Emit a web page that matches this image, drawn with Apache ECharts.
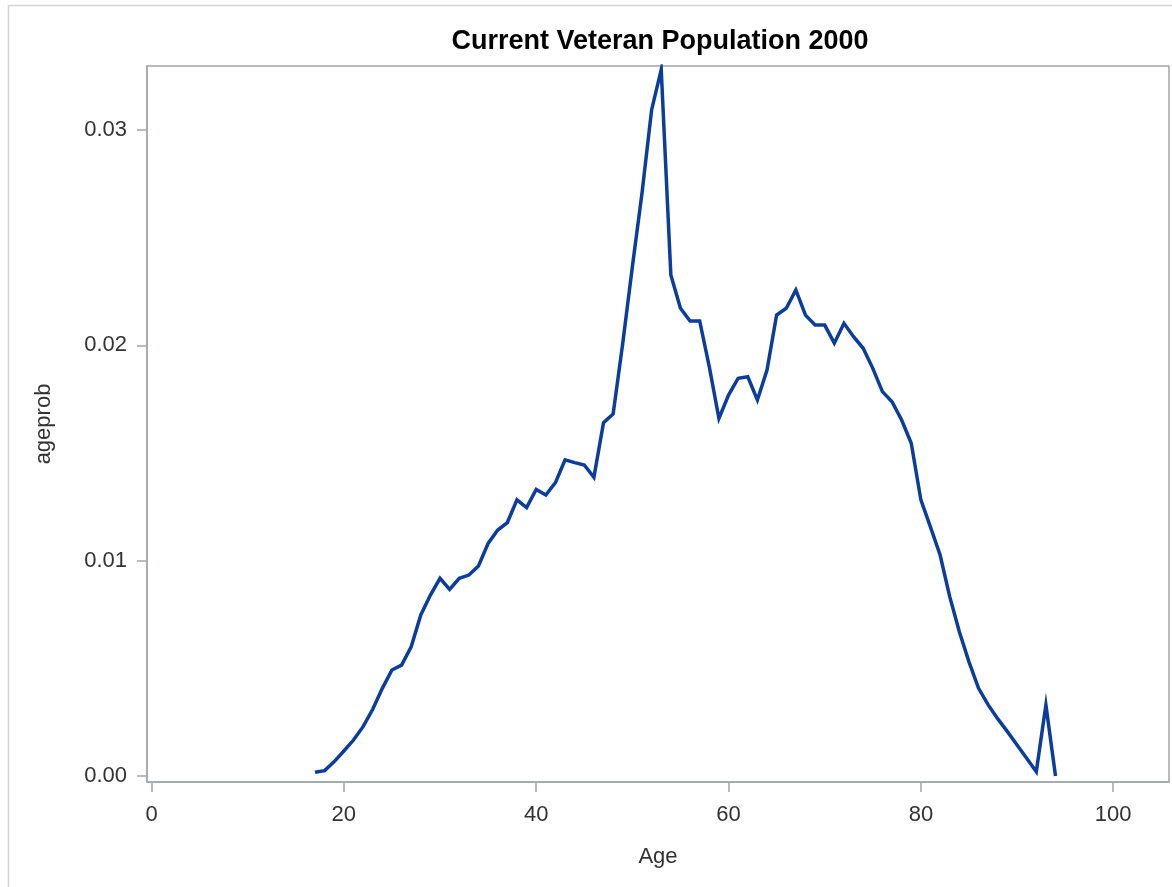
<!DOCTYPE html>
<html>
<head>
<meta charset="utf-8">
<script src="https://cdn.jsdelivr.net/npm/echarts@6/dist/echarts.min.js"></script>
<style>
html,body{margin:0;padding:0;background:#fff;}
#chart{width:1172px;height:887px;}
</style>
</head>
<body>
<div id="chart"></div>
<script>
const ages = [17,18,19,20,21,22,23,24,25,26,27,28,29,30,31,32,33,34,35,36,37,38,39,40,41,42,43,44,45,46,47,48,49,50,51,52,53,54,55,56,57,58,59,60,61,62,63,64,65,66,67,68,69,70,71,72,73,74,75,76,77,78,79,80,81,82,83,84,85,86,87,88,89,90,91,92,93,94];
const ageprob = [0.00017,0.00025,0.00067,0.00116,0.00167,0.00229,0.0031,0.00407,0.00492,0.00515,0.006,0.00748,0.0084,0.00918,0.00867,0.00918,0.00933,0.00975,0.0108,0.01142,0.01177,0.01282,0.01246,0.01331,0.01305,0.01362,0.01468,0.01455,0.01444,0.01387,0.01641,0.01681,0.0201,0.02365,0.02706,0.03093,0.0328,0.02327,0.02172,0.02113,0.02113,0.0190,0.01661,0.01769,0.01847,0.01854,0.01746,0.01885,0.02141,0.02172,0.02257,0.0214,0.02094,0.02094,0.0201,0.02102,0.0204,0.01986,0.01893,0.01785,0.01738,0.01653,0.01545,0.01282,0.01156,0.01026,0.00833,0.0067,0.0053,0.00407,0.0033,0.00265,0.00206,0.00144,0.00082,0.0002,0.0033,0.0];
const xTicks = [0,20,40,60,80,100];
const yTicks = [0,0.01,0.02,0.03];
const titleText = 'Current Veteran Population 2000';
const xName = 'Age';
const yName = 'ageprob';

const axisColor = '#a3a7ab';
const textColor = '#333333';
const font = '"Liberation Sans", Arial, sans-serif';

const chart = echarts.init(document.getElementById('chart'), null, {renderer:'canvas'});
chart.setOption({
  animation:false,
  backgroundColor:'#ffffff',
  title:{
    text:titleText,
    left:655, top:23, textAlign:'center',
    textStyle:{fontFamily:font,fontSize:27,fontWeight:'bold',color:'#000'}
  },
  graphic:[{
    type:'rect', silent:true,
    shape:{x:8.5,y:5.5,width:1300,height:1000},
    style:{fill:'none',stroke:'#d4d4d4',lineWidth:1.5}
  }],
  grid:{left:147,top:66,width:1022,height:716,show:true,borderColor:axisColor,borderWidth:1.5,backgroundColor:'transparent'},
  xAxis:{
    type:'value', min:-0.47, max:105.8,
    name:xName, nameLocation:'middle', nameGap:64,
    nameTextStyle:{fontFamily:font,fontSize:22,color:textColor},
    axisLine:{show:true,onZero:false,lineStyle:{color:axisColor,width:1.5}},
    axisTick:{show:true,length:10,customValues:xTicks,lineStyle:{color:axisColor,width:1.5}},
    axisLabel:{customValues:xTicks,fontFamily:font,fontSize:22,color:textColor,margin:22,formatter:v=>String(v)},
    splitLine:{show:false}
  },
  yAxis:{
    type:'value', min:-0.000279, max:0.03297,
    name:yName, nameLocation:'middle', nameGap:92, nameRotate:90,
    nameTextStyle:{fontFamily:font,fontSize:22,color:textColor},
    axisLine:{show:true,onZero:false,lineStyle:{color:axisColor,width:1.5}},
    axisTick:{show:true,length:10,customValues:yTicks,lineStyle:{color:axisColor,width:1.5}},
    axisLabel:{customValues:yTicks,fontFamily:font,fontSize:22,color:textColor,margin:20,formatter:v=>v.toFixed(2)},
    splitLine:{show:false}
  },
  series:[{
    type:'line',
    data:ages.map((a,i)=>[a,ageprob[i]]),
    showSymbol:false,
    lineStyle:{color:'#0b3d9c',width:3.5,join:'miter'},
    itemStyle:{color:'#0b3d9c'}
  }]
});
</script>
</body>
</html>
